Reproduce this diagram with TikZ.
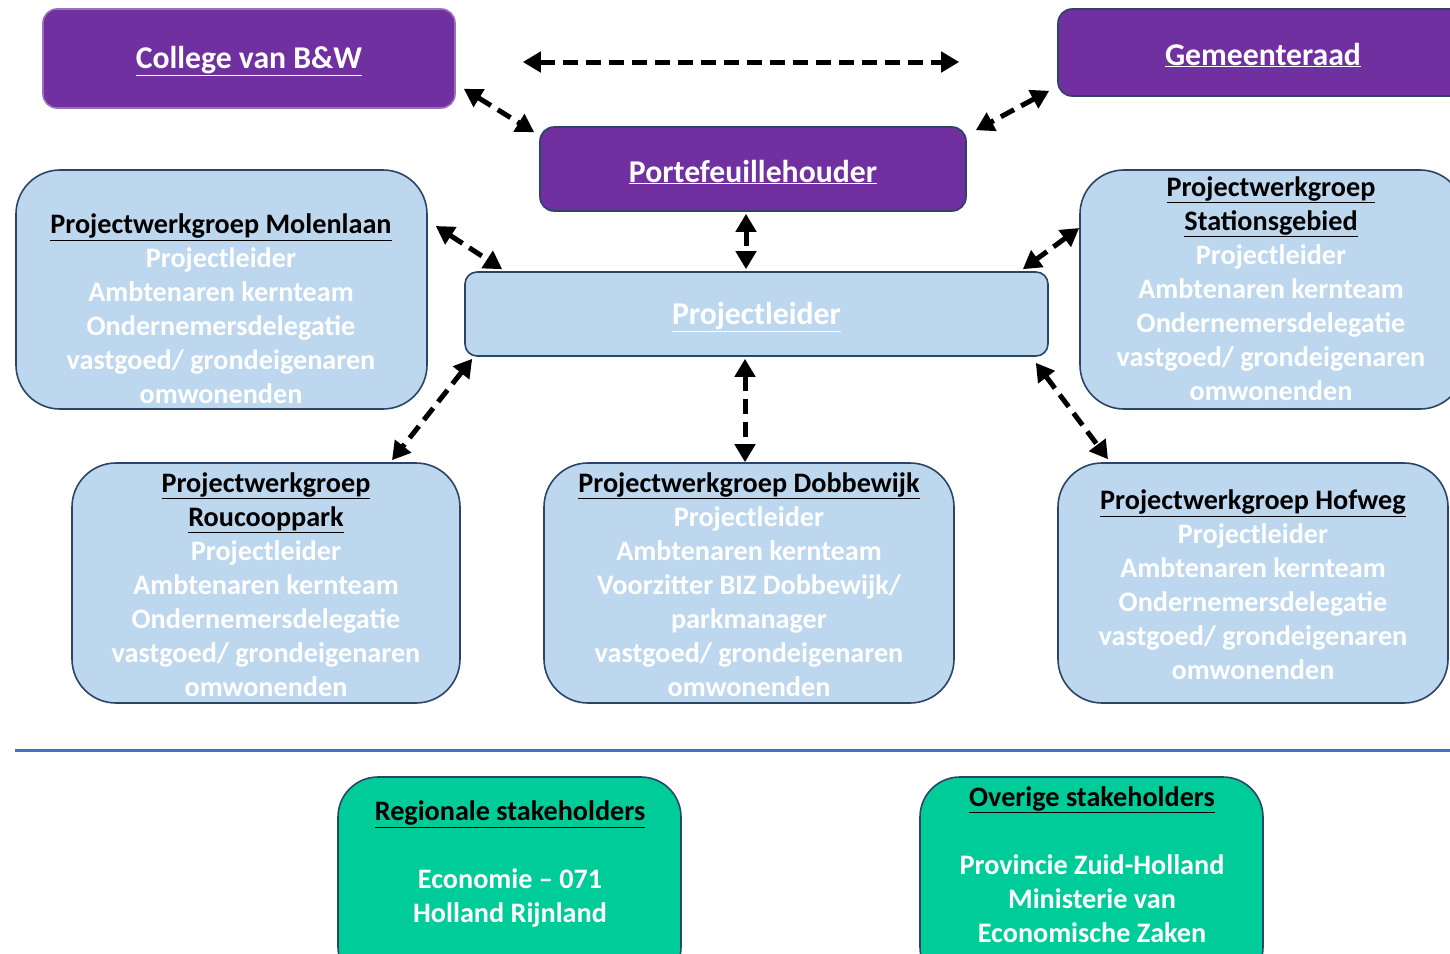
\documentclass[tikz,border=0pt]{standalone}
\usepackage{fontspec}
\setmainfont{Carlito}
\usetikzlibrary{arrows.meta}
\definecolor{purp}{HTML}{7030A0}
\definecolor{lblue}{HTML}{BDD7EE}
\definecolor{navy}{HTML}{2C4466}
\definecolor{grn}{HTML}{00CC99}
\definecolor{sepblue}{HTML}{4472C4}
\tikzset{
  purpbox/.style={draw=navy, line width=1.6pt, fill=purp, rounded corners=14pt, inner sep=0pt},
  bluebox/.style={draw=navy, line width=1.6pt, fill=lblue, rounded corners=44pt, inner sep=0pt},
  plbox/.style={draw=navy, line width=1.6pt, fill=lblue, rounded corners=12pt, inner sep=0pt},
  grnbox/.style={draw=navy, line width=1.6pt, fill=grn, rounded corners=40pt, inner sep=0pt},
  toptxt/.style={text=white, font=\fontsize{31.7}{38}\selectfont\bfseries, align=center, inner sep=0pt},
  boxtxt/.style={text=white, font=\fontsize{28.2}{34}\selectfont\bfseries, align=center, inner sep=0pt},
  dar/.style={line width=5pt, dash pattern=on 15pt off 8pt, {Triangle[length=18pt,width=20pt]}-{Triangle[length=18pt,width=20pt]}},
}
\newcommand{\hd}[1]{\textcolor{black}{\underline{#1}}}
\begin{document}
\begin{tikzpicture}[x=1pt,y=-1pt]
\useasboundingbox (0,0) rectangle (1450,953);
% top boxes
\node[purpbox, draw=purp!70!white, minimum width=412, minimum height=99] (college) at (249,58.5) {};
\node[toptxt] (collegeT) at (249,61) {\underline{College van B\&W}};
\node[purpbox, minimum width=410, minimum height=87] (gemeente) at (1263,52.5) {};
\node[toptxt] (gemeenteT) at (1263,55) {\underline{Gemeenteraad}};
\node[purpbox, minimum width=426, minimum height=84] (porte) at (753,169) {};
\node[toptxt] (porteT) at (753,172) {\underline{Portefeuillehouder}};
\node[plbox, minimum width=583, minimum height=84] (pl) at (756.5,314) {};
\node[toptxt] (plT) at (756.5,317) {\underline{Projectleider}};
% working groups
\node[bluebox, minimum width=411, minimum height=239] (molen) at (221.5,289.5) {};
\node[boxtxt] (molenT) at (221,309) {\hd{Projectwerkgroep Molenlaan}\\Projectleider\\Ambtenaren kernteam\\Ondernemersdelegatie\\vastgoed/ grondeigenaren\\omwonenden};
\node[bluebox, minimum width=384, minimum height=239] (station) at (1272,289.5) {};
\node[boxtxt] (stationT) at (1271,288.5) {\hd{Projectwerkgroep}\\\hd{Stationsgebied}\\Projectleider\\Ambtenaren kernteam\\Ondernemersdelegatie\\vastgoed/ grondeigenaren\\omwonenden};
\node[bluebox, minimum width=388, minimum height=240] (rouc) at (266,583) {};
\node[boxtxt] (roucT) at (266,584.5) {\hd{Projectwerkgroep}\\\hd{Roucooppark}\\Projectleider\\Ambtenaren kernteam\\Ondernemersdelegatie\\vastgoed/ grondeigenaren\\omwonenden};
\node[bluebox, minimum width=410, minimum height=240] (dobb) at (749,583) {};
\node[boxtxt] (dobbT) at (749,584.5) {\hd{Projectwerkgroep Dobbewijk}\\Projectleider\\Ambtenaren kernteam\\Voorzitter BIZ Dobbewijk/\\parkmanager\\vastgoed/ grondeigenaren\\omwonenden};
\node[bluebox, minimum width=390, minimum height=240] (hof) at (1253,583) {};
\node[boxtxt] (hofT) at (1253,585) {\hd{Projectwerkgroep Hofweg}\\Projectleider\\Ambtenaren kernteam\\Ondernemersdelegatie\\vastgoed/ grondeigenaren\\omwonenden};
% separator
\draw[sepblue, line width=3pt] (15,750) -- (1450,750);
% stakeholders
\node[grnbox, minimum width=343, minimum height=210] (regio) at (509.5,882) {};
\node[boxtxt] (regioT) at (510,864) {\hd{Regionale stakeholders}\\[34pt]Economie -- 071\\Holland Rijnland};
\node[grnbox, minimum width=343, minimum height=210] (overig) at (1091.5,882) {};
\node[boxtxt] (overigT) at (1092,864.5) {\hd{Overige stakeholders}\\[34pt]Provincie Zuid-Holland\\Ministerie van\\Economische Zaken};
% connectors
\draw[dar] ([shift={(67,3.5)}]college.east) -- ([shift={(-98,9.5)}]gemeente.west);
\draw[dar] ([shift={(8,-20)}]college.south east) -- ([shift={(-5,6)}]porte.north west);
\draw[dar] ([shift={(-8,-6)}]gemeente.south west) -- ([shift={(9,4)}]porte.north east);
\draw[dar] ([shift={(-7,2)}]porte.south) -- ([shift={(-10.5,-2)}]pl.north);
\draw[dar] ([shift={(8,-63.5)}]molen.east) -- ([shift={(38,-2)}]pl.north west);
\draw[dar] ([shift={(0,-61.5)}]station.west) -- ([shift={(-26,-2)}]pl.north east);
\draw[dar] ([shift={(8,2)}]pl.south west) -- ([shift={(126,-2)}]rouc.north);
\draw[dar] ([shift={(-11.5,2)}]pl.south) -- ([shift={(-4,0)}]dobb.north);
\draw[dar] ([shift={(-13,6)}]pl.south east) -- ([shift={(-145,-3)}]hof.north);
\end{tikzpicture}
\end{document}
